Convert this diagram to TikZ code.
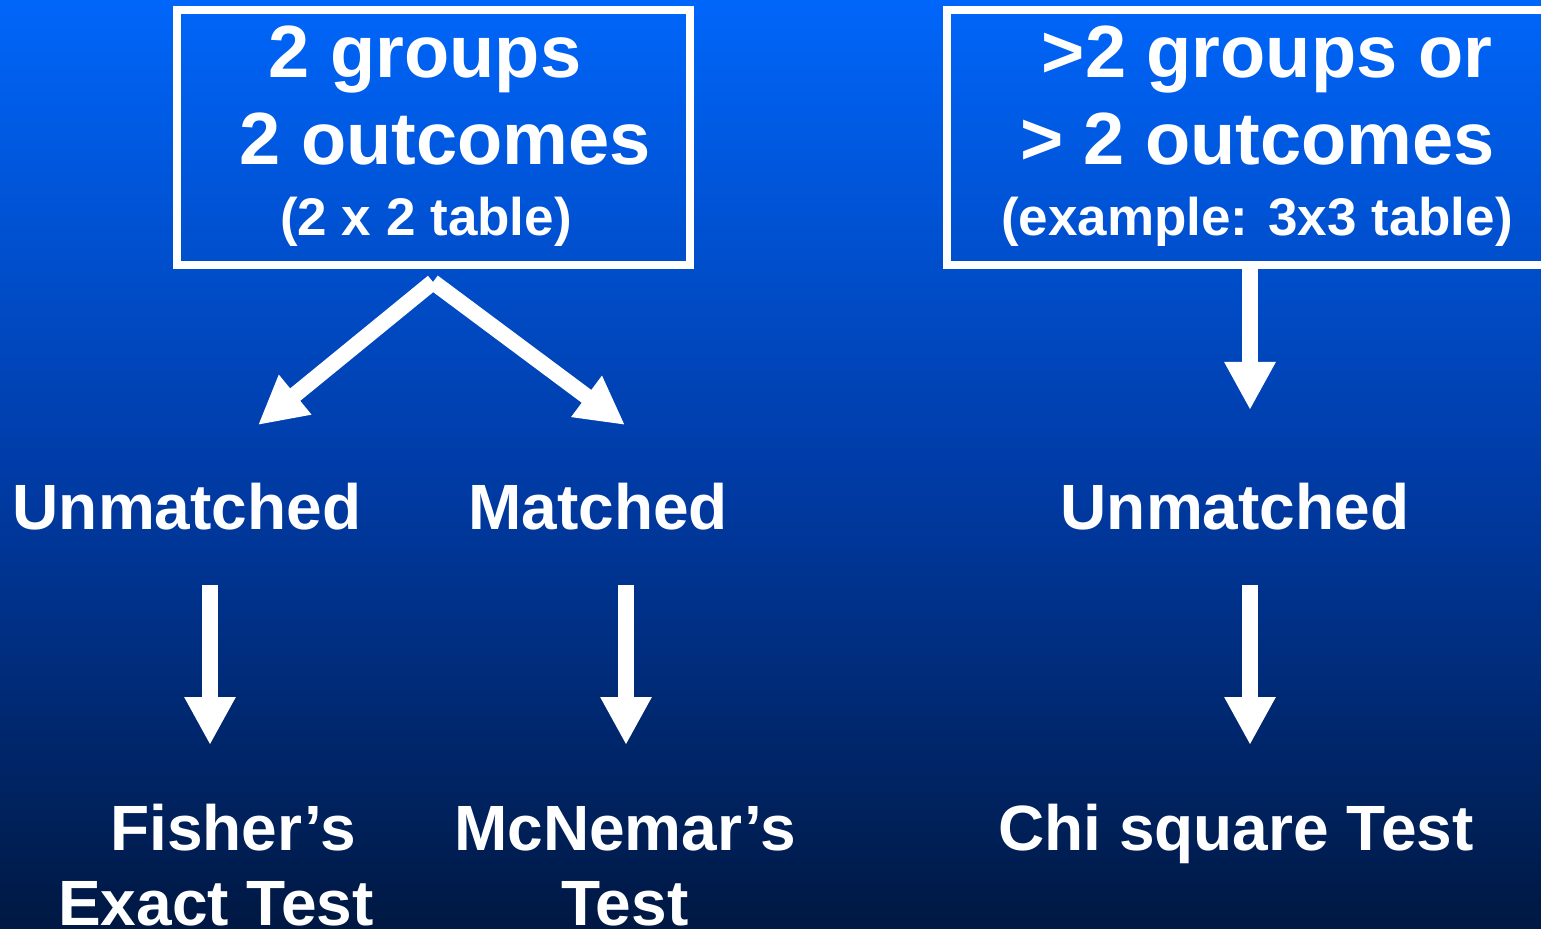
\documentclass[tikz,border=0pt]{standalone}
\usepackage{fontspec}
\setmainfont{Liberation Sans}
\usetikzlibrary{arrows.meta}
\definecolor{bgtop}{RGB}{0,102,250}
\definecolor{bgmid}{RGB}{0,60,168}
\definecolor{bgbot}{RGB}{0,24,66}
\tikzset{
  big/.style={text=white, inner sep=0pt, anchor=base, font=\fontsize{37}{40}\selectfont\bfseries},
  small/.style={text=white, inner sep=0pt, anchor=base, font=\fontsize{26.5}{30}\selectfont\bfseries},
  lbl/.style={text=white, inner sep=0pt, anchor=base, font=\fontsize{32}{36}\selectfont\bfseries},
  boxstyle/.style={draw=white, line width=4pt, inner sep=0pt},
  arr/.style={draw=white, line width=8pt, -{Triangle[width=24pt,length=24pt]}},
}
\begin{document}
\begin{tikzpicture}[x=0.5pt, y=-0.5pt]
\useasboundingbox (0,0) rectangle (1541,929);
\fill[top color=bgtop, bottom color=bgbot, middle color=bgmid] (0,0) rectangle (1541,929);

% boxes
\node[boxstyle, minimum width=256.5pt, minimum height=127.5pt] (box1) at (433.5,137.5) {};
\node[boxstyle, minimum width=299pt, minimum height=127.5pt] (box2) at (1246,137.5) {};

% box texts
\node[big] (b1l1) at (425,78) {2 groups};
\node[big] (b1l2) at (445,165) {2 outcomes};
\node[small] (b1l3) at (426,236) {(2 x 2 table)};
\node[big] (b2l1) at (1267,78) {>2 groups or};
\node[big] (b2l2) at (1257.5,165) {> 2 outcomes};
\node[small] (b2l3) at (1257,236) {(example: 3x3 table)};

% middle labels
\node[lbl] (un1) at (187,530) {Unmatched};
\node[lbl] (ma1) at (598,530) {Matched};
\node[lbl] (un2) at (1235,530) {Unmatched};

% bottom labels
\node[lbl] (fi1) at (233,850) {Fisher’s};
\node[lbl] (fi2) at (216,925) {Exact Test};
\node[lbl] (mc1) at (625,850) {McNemar’s};
\node[lbl] (mc2) at (625,925) {Test};
\node[lbl] (chi) at (1236,850) {Chi square Test};

% arrow coordinates
\coordinate (apex) at (433,282);
\coordinate (tipL) at (258,425);
\coordinate (tipM) at (625,425);
\coordinate (tipR) at (1250,410);
\coordinate (s1) at (210,585);
\coordinate (t1) at (210,745);
\coordinate (s2) at (626,585);
\coordinate (t2) at (626,745);
\coordinate (s3) at (1250,585);
\coordinate (t3) at (1250,745);

\draw[arr] (apex) -- (tipL);
\draw[arr] (apex) -- (tipM);
\draw[arr] (box2.south -| tipR) -- (tipR);
\draw[arr] (s1) -- (t1);
\draw[arr] (s2) -- (t2);
\draw[arr] (s3) -- (t3);
\end{tikzpicture}
\end{document}
